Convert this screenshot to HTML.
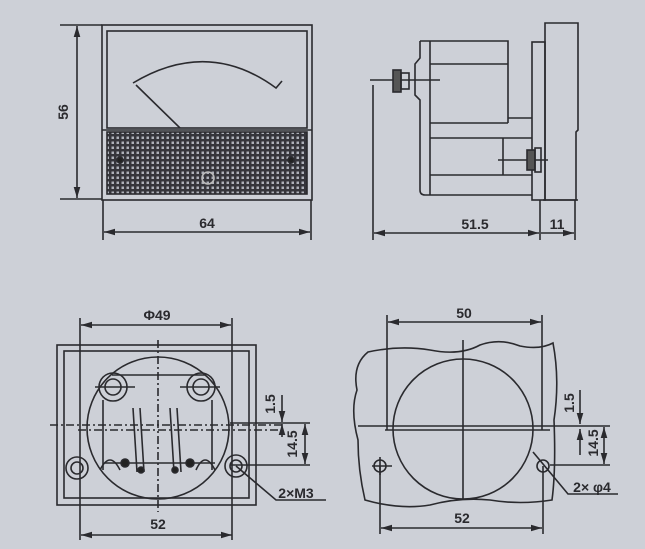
<!DOCTYPE html>
<html><head><meta charset="utf-8"><style>
html,body{margin:0;padding:0;background:#cdd0d7;}
svg{display:block}
text{font-family:"Liberation Sans",Arial,sans-serif;font-weight:bold;fill:#2a2a2e;font-size:14px}
</style></head><body>
<svg width="645" height="549" viewBox="0 0 645 549" xmlns="http://www.w3.org/2000/svg">
<defs>
<pattern id="g" width="5" height="5" patternUnits="userSpaceOnUse">
<rect width="5" height="5" fill="#35353b"/><rect x="1.5" y="1.5" width="2.5" height="2.5" fill="#aeb1ba"/>
</pattern>
<marker id="a" viewBox="0 0 10 10" refX="10" refY="5" markerWidth="7" markerHeight="7" orient="auto-start-reverse"><path d="M0,2 L10,5 L0,8z" fill="#2a2a2e"/></marker>
</defs>
<rect width="645" height="549" fill="#cdd0d7"/>
<g stroke="#2a2a2e" stroke-width="1.6" fill="none">
<rect x="102" y="25" width="210" height="175"/>
<rect x="107" y="31" width="200" height="97"/>
<line x1="102" y1="130" x2="312" y2="130"/>
<rect x="107" y="132" width="200" height="62" fill="url(#g)"/>
<path d="M133,83 Q208,38 276,88 L282,81"/>
<line x1="136" y1="85" x2="180" y2="128"/>
<circle cx="120" cy="160" r="3" fill="#222"/>
<circle cx="291" cy="160" r="3" fill="#222"/>
<circle cx="208" cy="178" r="6" stroke="#bbb"/>
<line x1="60" y1="25" x2="102" y2="25"/><line x1="60" y1="199" x2="102" y2="199"/>
<line x1="77" y1="26" x2="77" y2="198" marker-start="url(#a)" marker-end="url(#a)"/>
<line x1="103" y1="200" x2="103" y2="240"/><line x1="311" y1="200" x2="311" y2="240"/>
<line x1="104" y1="232" x2="310" y2="232" marker-start="url(#a)" marker-end="url(#a)"/>
<path d="M545,23 H578 V130 L576,132 V200 H545 Z"/>
<line x1="543" y1="200" x2="578" y2="200"/>
<rect x="532" y="42" width="13" height="158"/>
<path d="M420,41 H508 V118 H532 M508,41 V123"/>
<path d="M420,41 V58 L415,64 V95 L420,100 V190 Q420,195 425,195 H532"/>
<line x1="430" y1="41" x2="430" y2="195"/>
<line x1="430" y1="64" x2="508" y2="64"/>
<line x1="430" y1="123" x2="508" y2="123"/>
<line x1="430" y1="138" x2="532" y2="138"/>
<line x1="430" y1="175" x2="532" y2="175"/>
<line x1="503" y1="138" x2="503" y2="175"/>
<line x1="370" y1="80" x2="440" y2="80"/>
<rect x="393" y="70" width="8" height="22" fill="#555"/><rect x="401" y="73" width="8" height="16"/>
<line x1="498" y1="160" x2="548" y2="160"/>
<rect x="527" y="150" width="8" height="20" fill="#555"/><rect x="535" y="148" width="6" height="24"/>
<line x1="373" y1="85" x2="373" y2="240"/><line x1="540" y1="200" x2="540" y2="240"/><line x1="575" y1="200" x2="575" y2="240"/>
<line x1="374" y1="233" x2="539" y2="233" marker-start="url(#a)" marker-end="url(#a)"/>
<line x1="541" y1="233" x2="574" y2="233" marker-end="url(#a)"/>
<rect x="57" y="345" width="199" height="160"/>
<rect x="64" y="351" width="185" height="147"/>
<circle cx="158" cy="428" r="71"/>
<line x1="158" y1="340" x2="158" y2="512" stroke-dasharray="8,3,2,3"/>
<line x1="50" y1="425" x2="285" y2="425" stroke-dasharray="8,3,2,3"/>
<line x1="78" y1="430" x2="285" y2="430" stroke-dasharray="8,3,2,3"/>
<circle cx="113" cy="387" r="14"/><circle cx="113" cy="387" r="8"/>
<circle cx="201" cy="387" r="14"/><circle cx="201" cy="387" r="8"/>
<line x1="95" y1="387" x2="135" y2="387"/><line x1="180" y1="387" x2="220" y2="387"/>
<line x1="112" y1="375" x2="205" y2="375"/>
<line x1="103" y1="400" x2="103" y2="470"/><line x1="212" y1="400" x2="212" y2="470"/>
<path d="M133,408 L137,472 M140,408 L144,472 M170,408 L174,472 M177,408 L181,472"/>
<line x1="105" y1="463" x2="215" y2="463"/>
<circle cx="125" cy="463" r="4" fill="#222"/><circle cx="141" cy="470" r="3" fill="#222"/>
<circle cx="175" cy="470" r="3" fill="#222"/><circle cx="190" cy="463" r="4" fill="#222"/>
<path d="M100,470 Q110,450 120,470 M196,470 Q205,450 215,470"/>
<circle cx="77" cy="468" r="11"/><circle cx="77" cy="468" r="6"/>
<circle cx="236" cy="466" r="11"/><circle cx="236" cy="466" r="6"/>
<path d="M236,466 L276,500 H326"/>
<line x1="80" y1="318" x2="80" y2="540"/><line x1="232" y1="318" x2="232" y2="540"/>
<line x1="81" y1="325" x2="231" y2="325" marker-start="url(#a)" marker-end="url(#a)"/>
<line x1="81" y1="535" x2="232" y2="535" marker-start="url(#a)" marker-end="url(#a)"/>
<line x1="230" y1="423" x2="310" y2="423"/><line x1="230" y1="465" x2="310" y2="465"/>
<line x1="282" y1="395" x2="282" y2="422" marker-end="url(#a)"/>
<line x1="282" y1="437" x2="282" y2="424" marker-end="url(#a)"/>
<line x1="305" y1="424" x2="305" y2="464" marker-start="url(#a)" marker-end="url(#a)"/>
<path d="M368,352 Q400,345 430,350 Q460,356 480,345 Q500,338 520,346 Q540,350 553,343 Q560,380 554,420 Q556,470 552,500 Q520,505 490,500 Q460,497 430,505 Q400,510 365,500 Q358,470 358,440 Q350,410 357,390 Q352,365 368,352 Z"/>
<circle cx="463" cy="429" r="70"/>
<line x1="463" y1="340" x2="463" y2="500"/>
<line x1="358" y1="426" x2="610" y2="426"/>
<line x1="385" y1="430" x2="550" y2="430"/>
<circle cx="380" cy="466" r="6"/><path d="M372,466 H392 M380,457 V475"/>
<circle cx="543" cy="466" r="6"/>
<path d="M533,452 L553,476 L568,494 H618"/>
<line x1="387" y1="315" x2="387" y2="430"/><line x1="542" y1="315" x2="542" y2="430"/>
<line x1="388" y1="322" x2="541" y2="322" marker-start="url(#a)" marker-end="url(#a)"/>
<line x1="380" y1="466" x2="380" y2="534"/><line x1="543" y1="466" x2="543" y2="534"/>
<line x1="381" y1="528" x2="542" y2="528" marker-start="url(#a)" marker-end="url(#a)"/>
<line x1="550" y1="465" x2="610" y2="465"/>
<line x1="580" y1="390" x2="580" y2="424" marker-end="url(#a)"/>
<line x1="580" y1="455" x2="580" y2="429" marker-end="url(#a)"/>
<line x1="604" y1="427" x2="604" y2="464" marker-start="url(#a)" marker-end="url(#a)"/>
</g>
<text x="68" y="112" text-anchor="middle" transform="rotate(-90 68 112)">56</text>
<text x="207" y="228" text-anchor="middle">64</text>
<text x="475" y="229" text-anchor="middle">51.5</text>
<text x="557" y="229" text-anchor="middle">11</text>
<text x="157" y="320" text-anchor="middle">Φ49</text>
<text x="158" y="529" text-anchor="middle">52</text>
<text x="296" y="498" text-anchor="middle" font-size="12">2×M3</text>
<text x="275" y="404" text-anchor="middle" font-size="12" transform="rotate(-90 275 404)">1.5</text>
<text x="297" y="444" text-anchor="middle" font-size="12" transform="rotate(-90 297 444)">14.5</text>
<text x="464" y="318" text-anchor="middle">50</text>
<text x="462" y="523" text-anchor="middle">52</text>
<text x="592" y="492" text-anchor="middle" font-size="12">2× φ4</text>
<text x="574" y="403" text-anchor="middle" font-size="12" transform="rotate(-90 574 403)">1.5</text>
<text x="598" y="443" text-anchor="middle" font-size="12" transform="rotate(-90 598 443)">14.5</text>
</svg>
</body></html>
